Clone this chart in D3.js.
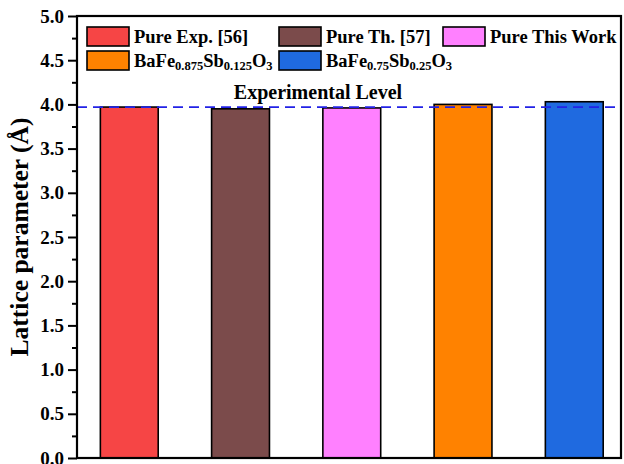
<!DOCTYPE html>
<html>
<head>
<meta charset="utf-8">
<script src="https://cdn.jsdelivr.net/npm/d3@7"></script>
<style>
  html, body { margin: 0; padding: 0; background: #fff; }
  svg { display: block; }
  text { font-family: "Liberation Serif", "Times New Roman", serif; font-weight: bold; fill: #000; }
</style>
</head>
<body>
<svg id="chart" width="624" height="464"></svg>
<script>
// Lattice parameter of pure and Sb-doped BaFeO3
const categories = ["Pure Exp. [56]", "Pure Th. [57]", "Pure This Work", "BaFe0.875Sb0.125O3", "BaFe0.75Sb0.25O3"];
// legend labels split into [text, subscript?] runs
const labelRuns = [
  [["Pure Exp. [56]", false]],
  [["Pure Th. [57]", false]],
  [["Pure This Work", false]],
  [["BaFe", false], ["0.875", true], ["Sb", false], ["0.125", true], ["O", false], ["3", true]],
  [["BaFe", false], ["0.75", true], ["Sb", false], ["0.25", true], ["O", false], ["3", true]]
];
const values = [3.97, 3.95, 3.96, 4.00, 4.03];
const colors = ["#f64545", "#7b4b4b", "#ff80ff", "#ff8200", "#1f6ae0"];
const experimentalLevel = 3.97;
const yTicks = [0, 0.5, 1, 1.5, 2, 2.5, 3, 3.5, 4, 4.5, 5];
const yMinorTicks = [0.25, 0.75, 1.25, 1.75, 2.25, 2.75, 3.25, 3.75, 4.25, 4.75];

const svg = d3.select("#chart");
const plotL = 77, plotR = 621, plotT = 16, plotB = 458;

const x = d3.scaleLinear().domain([0.53, 5.42]).range([plotL, plotR]);
const y = d3.scaleLinear().domain([0, 5]).range([plotB, plotT]);
const barW = 0.52;

// bars
svg.append("g").selectAll("rect").data(values).join("rect")
  .attr("x", (d, i) => x(i + 1 - barW / 2))
  .attr("width", (d, i) => x(i + 1 + barW / 2) - x(i + 1 - barW / 2))
  .attr("y", d => y(d))
  .attr("height", d => y(0) - y(d))
  .attr("fill", (d, i) => colors[i])
  .attr("stroke", "#000")
  .attr("stroke-width", 1.6);

// experimental reference line
svg.append("line")
  .attr("x1", plotL).attr("x2", plotR)
  .attr("y1", y(experimentalLevel)).attr("y2", y(experimentalLevel))
  .attr("stroke", "#2222e6").attr("stroke-width", 1.7)
  .attr("stroke-dasharray", "10,6");

svg.append("text")
  .attr("x", 318).attr("y", 99)
  .attr("text-anchor", "middle")
  .attr("font-size", 20)
  .text("Experimental Level");

// y axis
const yAxis = d3.axisLeft(y).tickValues(yTicks).tickFormat(d3.format(".1f")).tickSize(9).tickPadding(4);
const gy = svg.append("g").attr("transform", `translate(${plotL},0)`).call(yAxis);
gy.select(".domain").remove();
gy.selectAll(".tick line").attr("stroke", "#000").attr("stroke-width", 2);
gy.selectAll(".tick text").attr("font-size", 19).attr("font-family", "Liberation Serif").attr("font-weight", "bold").attr("fill", "#000");

const yMinor = d3.axisLeft(y).tickValues(yMinorTicks).tickFormat("").tickSize(5);
const gym = svg.append("g").attr("transform", `translate(${plotL},0)`).call(yMinor);
gym.select(".domain").remove();
gym.selectAll(".tick line").attr("stroke", "#000").attr("stroke-width", 2);

// frame
svg.append("rect")
  .attr("x", plotL).attr("y", plotT)
  .attr("width", plotR - plotL).attr("height", plotB - plotT)
  .attr("fill", "none").attr("stroke", "#000").attr("stroke-width", 2.2);

// axis title
svg.append("text")
  .attr("transform", `translate(28,${(plotT + plotB) / 2}) rotate(-90)`)
  .attr("text-anchor", "middle")
  .attr("font-size", 25.5)
  .text("Lattice parameter (Å)");

// legend, three columns
const legX = [87, 279, 443];
const legY = [27, 51];
const leg = svg.append("g").selectAll("g").data(categories).join("g")
  .attr("transform", (d, i) => `translate(${legX[i % 3]},${legY[Math.floor(i / 3)]})`);
leg.append("rect")
  .attr("width", 42).attr("height", 19)
  .attr("fill", (d, i) => colors[i])
  .attr("stroke", "#000").attr("stroke-width", 1.6);
const lt = leg.append("text")
  .attr("x", 47).attr("y", 16)
  .attr("font-size", 18.5);
lt.each(function (d, i) {
  const t = d3.select(this);
  labelRuns[i].forEach(([s, sub]) => {
    t.append("tspan")
      .attr("font-size", sub ? 12.5 : 18.5)
      .attr("baseline-shift", sub ? "-25%" : null)
      .text(s);
  });
});
</script>
</body>
</html>
